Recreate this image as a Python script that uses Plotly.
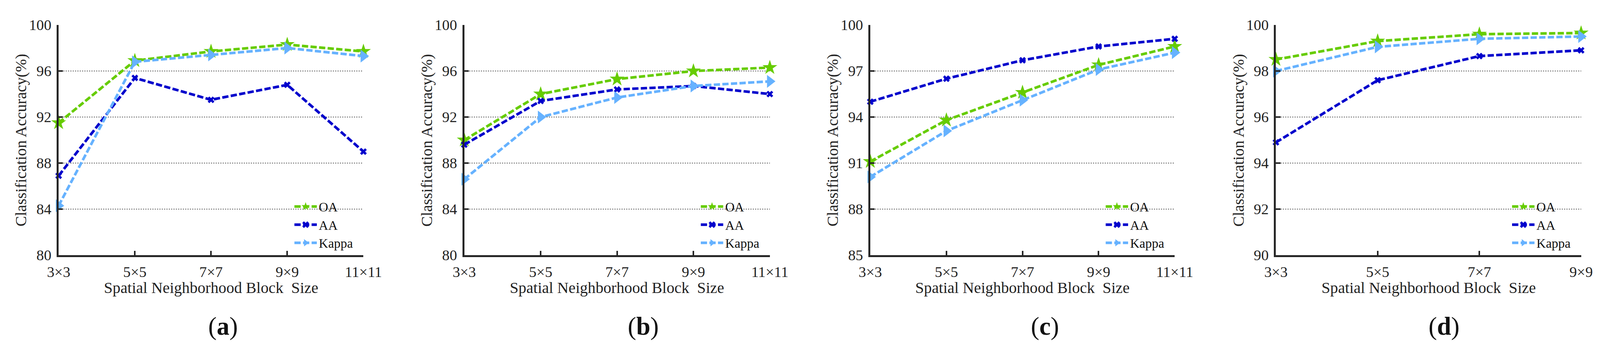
import plotly.graph_objects as go

# block sizes on the x axis
sizes = ['3×3', '5×5', '7×7', '9×9', '11×11']
sizes_d = ['3×3', '5×5', '7×7', '9×9']

# (a)
oa_a = [91.5, 96.9, 97.7, 98.3, 97.7]
aa_a = [86.9, 95.4, 93.5, 94.8, 89.0]
kappa_a = [84.3, 96.8, 97.4, 98.0, 97.3]

# (b)
oa_b = [90.0, 94.0, 95.3, 96.0, 96.3]
aa_b = [89.6, 93.4, 94.4, 94.7, 94.0]
kappa_b = [86.6, 92.0, 93.7, 94.7, 95.1]

# (c)
oa_c = [91.1, 93.8, 95.6, 97.4, 98.6]
aa_c = [95.0, 96.5, 97.7, 98.6, 99.1]
kappa_c = [90.1, 93.1, 95.1, 97.1, 98.2]

# (d)
oa_d = [98.5, 99.3, 99.6, 99.65]
aa_d = [94.9, 97.6, 98.65, 98.9]
kappa_d = [98.0, 99.05, 99.4, 99.5]

y_ranges = [[80, 100], [80, 100], [85, 100], [90, 100]]
y_steps = [4, 4, 3, 2]
captions = ['a', 'b', 'c', 'd']
x_title = 'Spatial Neighborhood Block  Size'
y_title = 'Classification Accuracy(%)'

panels = [
    (sizes, oa_a, aa_a, kappa_a),
    (sizes, oa_b, aa_b, kappa_b),
    (sizes, oa_c, aa_c, kappa_c),
    (sizes_d, oa_d, aa_d, kappa_d),
]

# the page shows the figure a bit enlarged and shifted by the body margin,
# so work in picture pixels and convert
S = 1 / 1.0458
OFF = 8
REF_W, REF_H = 4299, 933
W = round(REF_W * S - OFF)
H = round(REF_H * S - OFF)


def fx(px):
    return (px * S - OFF) / W


def fy(py):
    return 1 - (py * S - OFF) / H


def sz(v):
    return v * S


FONT = 'Liberation Serif'
x_px = [(157, 973), (1243, 2061), (2330, 3145), (3416, 4233)]
y_top, y_bot = 67, 684
y_dom = [fy(y_bot), fy(y_top)]

styles = [
    ('OA', '#66CC00', 'star', 30),
    ('AA', '#0000CC', 'x', 16),
    ('Kappa', '#66B2FF', 'triangle-right', 30),
]

fig = go.Figure()
layout = {}
annotations = []

for i, (cats, oa, aa, kappa) in enumerate(panels):
    n = '' if i == 0 else str(i + 1)
    leg = 'legend' + n
    for (name, color, symbol, msize), vals in zip(styles, [oa, aa, kappa]):
        fig.add_trace(go.Scatter(
            x=cats, y=vals, name=name, mode='lines+markers',
            xaxis='x' + n, yaxis='y' + n, legend=leg,
            line=dict(color=color, width=sz(7), dash='%dpx,%dpx' % (sz(17), sz(7))),
            marker=dict(symbol=symbol, size=sz(msize), color=color, line=dict(width=0)),
            cliponaxis=False,
        ))

    x0, x1 = x_px[i]
    layout['xaxis' + n] = dict(
        domain=[fx(x0), fx(x1)], anchor='y' + n, type='category',
        range=[0, len(cats) - 1], automargin=False,
        showline=True, linecolor='#262626', linewidth=sz(5),
        ticks='inside', ticklen=sz(12), tickwidth=sz(4), tickcolor='#262626',
        ticklabelstandoff=5,
        showgrid=False, zeroline=False,
        tickfont=dict(family=FONT, size=sz(40), color='#222'),
    )
    lo, hi = y_ranges[i]
    layout['yaxis' + n] = dict(
        domain=y_dom, anchor='x' + n, range=[lo, hi], automargin=False,
        tick0=lo, dtick=y_steps[i],
        showline=True, linecolor='#262626', linewidth=sz(5),
        ticks='inside', ticklen=sz(12), tickwidth=sz(4), tickcolor='#262626',
        ticklabelstandoff=6,
        showgrid=True, gridcolor='#666', gridwidth=2, griddash='dot',
        zeroline=False,
        tickfont=dict(family=FONT, size=sz(40), color='#222'),
    )
    layout[leg] = dict(
        x=fx(x1 - 190), y=fy(524), xanchor='left', yanchor='top',
        bgcolor='rgba(0,0,0,0)', borderwidth=0,
        font=dict(family=FONT, size=sz(35), color='#111'),
        itemwidth=sz(60), tracegroupgap=0,
    )

    # axis titles
    annotations.append(dict(
        x=fx((x0 + x1) / 2), y=fy(771), xref='paper', yref='paper',
        text=x_title, showarrow=False,
        font=dict(family=FONT, size=sz(42), color='#222'),
        xanchor='center', yanchor='middle',
    ))
    annotations.append(dict(
        x=fx(x0 - 101), y=fy((y_top + y_bot) / 2), xref='paper', yref='paper',
        text=y_title, showarrow=False, textangle=-90,
        font=dict(family=FONT, size=sz(42), color='#222'),
        xanchor='center', yanchor='middle',
    ))

caption_x = [597, 1722, 2797, 3866]
for cx, c in zip(caption_x, captions):
    annotations.append(dict(
        x=fx(cx), y=fy(874), xref='paper', yref='paper',
        text='(<b>' + c + '</b>)', showarrow=False,
        font=dict(family=FONT, size=sz(68), color='#111'),
        xanchor='center', yanchor='middle',
    ))

fig.update_layout(
    width=W, height=H,
    margin=dict(l=0, r=0, t=0, b=0),
    paper_bgcolor='white', plot_bgcolor='white',
    showlegend=True,
    annotations=annotations,
    **layout,
)

fig.write_html('out.html')
